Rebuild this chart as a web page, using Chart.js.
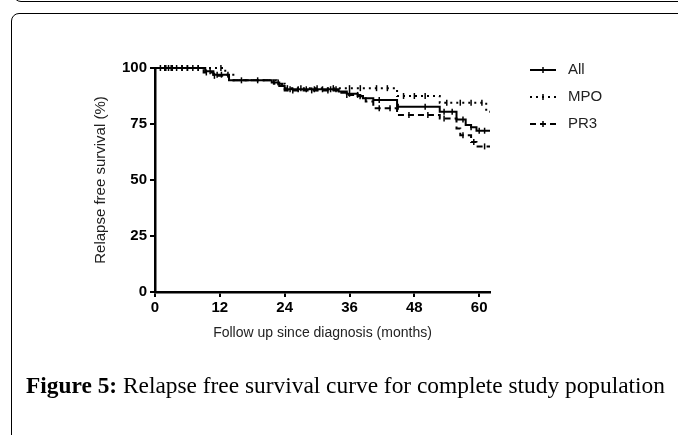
<!DOCTYPE html>
<html>
<head>
<meta charset="utf-8">
<script src="https://cdn.jsdelivr.net/npm/chart.js@4.4.1/dist/chart.umd.min.js"></script>
<style>
  html, body { margin: 0; padding: 0; background: #fff; overflow: hidden; }
  body { width: 678px; height: 435px; position: relative; }
  .topbox { position: absolute; left: 13px; top: -60px; width: 720px; height: 60px;
            border: 1px solid #000; border-radius: 8px; }
  .box { position: absolute; left: 11px; top: 13px; width: 720px; height: 520px;
         border: 1px solid #000; border-radius: 8px; }
  #chart { position: absolute; left: 0; top: 0; }
  #caption { position: absolute; left: 26px; top: 372px; white-space: nowrap;
             font-family: "Liberation Serif", serif; font-size: 21px; color: #000; }
  #caption b { font-weight: bold; }
</style>
</head>
<body>
<div class="topbox"></div>
<div class="box"></div>
<canvas id="chart" width="678" height="435"></canvas>
<div id="caption"><b>Figure 5:</b> Relapse free survival curve for complete study population</div>
<script>
// Kaplan-Meier steps (months, % relapse free)
const allTimes = [0, 9.3, 10.8, 13.7, 21.6, 23, 24, 34, 35.5, 37.5, 38.5, 40.4, 44.8, 52.7, 55.8, 57.5, 58.5, 59.5, 62];
const allSurv = [100, 98.5, 97, 94.5, 93.5, 92, 90.5, 89.5, 88.5, 87.5, 86.5, 85.7, 82.7, 80.5, 77, 74.5, 73.5, 72, 72];
const mpoTimes = [0, 13, 14.5, 22.5, 24, 44.8, 52.7, 61.3, 62];
const mpoSurv = [100, 97, 94.5, 93, 91, 87.5, 84.5, 80.5, 80.5];
const pr3Times = [0, 9, 10.8, 13.7, 22, 23.5, 24, 34, 35.5, 38, 39, 40.4, 44.8, 52.7, 55.8, 56.5, 58.5, 59.5, 62];
const pr3Surv = [100, 98, 96.5, 94.5, 93, 91.5, 90, 89, 88, 86.5, 85, 82, 79, 77.5, 73, 70, 67, 65, 65];

// censored observations (months)
const allCensor = [1, 1.8, 2.5, 3.2, 4, 5, 6, 7, 8, 10.2, 11.5, 12.3, 16, 19, 22.8, 25, 26.5, 28, 29.5, 31, 32.5, 33.5, 36, 41.5, 45, 50, 53.5, 55, 57, 58.5, 60, 61];
const mpoCensor = [2, 5, 8, 12.2, 13.5, 24.5, 27, 30, 33, 36, 38, 41, 43, 46, 48, 50, 54, 56.5, 58.5, 60.5];
const pr3Censor = [3, 6, 9.5, 11, 25.5, 29, 32, 35.5, 37.5, 41.5, 43.5, 47, 50.5, 53.5, 57, 59, 61];

const groupNames = ["All", "MPO", "PR3"];
const xTicks = [0, 12, 24, 36, 48, 60];
const yTicks = [0, 25, 50, 75, 100];

function toPoints(times, surv) {
  return times.map((t, i) => ({ x: t, y: surv[i] }));
}

function survAt(times, surv, t) {
  let v = surv[0];
  for (let i = 0; i < times.length; i++) {
    if (times[i] <= t) v = surv[i];
  }
  return v;
}

function censorPoints(times, surv, cens) {
  return cens.map(t => ({ x: t, y: survAt(times, surv, t) }));
}

const styles = [
  { dash: [], width: 2 },
  { dash: [2, 4], width: 2 },
  { dash: [6, 4], width: 2 }
];

const series = [
  [allTimes, allSurv, allCensor],
  [mpoTimes, mpoSurv, mpoCensor],
  [pr3Times, pr3Surv, pr3Censor]
];

const datasets = [];
series.forEach((s, i) => {
  datasets.push({
    label: groupNames[i],
    data: toPoints(s[0], s[1]),
    showLine: true,
    stepped: "before",
    borderColor: "#000",
    borderWidth: styles[i].width,
    borderDash: styles[i].dash,
    pointRadius: 0,
    fill: false,
    clip: false
  });
});
series.forEach((s, i) => {
  datasets.push({
    label: groupNames[i] + " censored",
    data: censorPoints(s[0], s[1], s[2]),
    showLine: false,
    pointStyle: "line",
    rotation: 90,
    pointRadius: 3,
    borderColor: "#000",
    borderWidth: 1.5,
    clip: false
  });
});

const legendPlugin = {
  id: "kmLegend",
  afterDraw(chart) {
    const ctx = chart.ctx;
    const rows = [70, 97, 124];
    ctx.save();
    groupNames.forEach((name, i) => {
      const y = rows[i];
      ctx.strokeStyle = "#000";
      ctx.lineWidth = styles[i].width;
      ctx.setLineDash(styles[i].dash);
      ctx.beginPath();
      ctx.moveTo(530, y);
      ctx.lineTo(556, y);
      ctx.stroke();
      ctx.setLineDash([]);
      ctx.lineWidth = 1.5;
      ctx.beginPath();
      ctx.moveTo(543, y - 3);
      ctx.lineTo(543, y + 3);
      ctx.stroke();
      ctx.fillStyle = "#222";
      ctx.font = "15px 'Liberation Sans', Arial, sans-serif";
      ctx.textBaseline = "middle";
      ctx.fillText(name, 568, y);
    });
    ctx.restore();
  }
};

new Chart(document.getElementById("chart"), {
  type: "scatter",
  data: { datasets },
  plugins: [legendPlugin],
  options: {
    responsive: false,
    animation: false,
    layout: { padding: { left: 88, top: 68, right: 188, bottom: 93 } },
    plugins: { legend: { display: false }, tooltip: { enabled: false } },
    scales: {
      x: {
        type: "linear",
        min: 0,
        max: 62,
        afterFit: s => { s.height = 50; },
        afterBuildTicks: s => { s.ticks = xTicks.map(v => ({ value: v })); },
        border: { color: "#000", width: 2.5 },
        grid: { drawOnChartArea: false, drawTicks: true, tickLength: 5, color: "#000", lineWidth: 2 },
        ticks: { color: "#000", padding: 2, font: { family: "'Liberation Sans', Arial", size: 15, weight: "bold" } },
        title: {
          display: true,
          text: "Follow up since diagnosis (months)",
          color: "#222",
          padding: { top: 4, bottom: 0 },
          font: { family: "'Liberation Sans', Arial", size: 14 }
        }
      },
      y: {
        type: "linear",
        min: 0,
        max: 100,
        afterFit: s => { s.width = 67; },
        afterBuildTicks: s => { s.ticks = yTicks.map(v => ({ value: v })); },
        border: { color: "#000", width: 2.5 },
        grid: { drawOnChartArea: false, drawTicks: true, tickLength: 5, color: "#000", lineWidth: 2 },
        ticks: { color: "#000", padding: 3, font: { family: "'Liberation Sans', Arial", size: 15, weight: "bold" } },
        title: {
          display: true,
          text: "Relapse free survival (%)",
          color: "#222",
          padding: { top: 4, bottom: 1 },
          font: { family: "'Liberation Sans', Arial", size: 15 }
        }
      }
    }
  }
});

// stretch caption to the width it spans in the figure
const cap = document.getElementById("caption");
const target = 639;
const w = cap.getBoundingClientRect().width;
cap.style.fontSize = (21 * target / w).toFixed(2) + "px";
</script>
</body>
</html>
